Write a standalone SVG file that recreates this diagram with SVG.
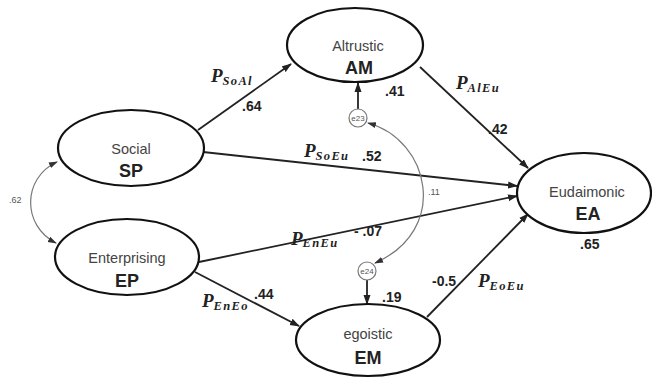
<svg xmlns="http://www.w3.org/2000/svg" width="652" height="378" viewBox="0 0 652 378">
<style>
.lat{fill:#fff;stroke:#111;stroke-width:2.2}
.err{fill:#fff;stroke:#777;stroke-width:1.2}
.name{font-family:"Liberation Sans",Arial,sans-serif;font-size:14.5px;fill:#444;text-anchor:middle}
.code{font-family:"Liberation Sans",Arial,sans-serif;font-size:18px;font-weight:bold;fill:#222;text-anchor:middle}
.etx{font-family:"Liberation Sans",Arial,sans-serif;font-size:8px;fill:#555;text-anchor:middle}
.path{stroke:#222;stroke-width:1.8;fill:none;marker-end:url(#ah)}
.cov{stroke:#777;stroke-width:1.2;fill:none;marker-start:url(#ahg);marker-end:url(#ahg)}
.coef{font-family:"Liberation Sans",Arial,sans-serif;font-size:14px;font-weight:bold;fill:#222}
.small{font-family:"Liberation Sans",Arial,sans-serif;font-size:9px;fill:#555}
.p{font-family:"Liberation Serif","Times New Roman",serif;font-style:italic;font-weight:bold;font-size:19px;fill:#222}
.sub{font-size:12.5px;letter-spacing:1.3px}
</style>
<defs>
<marker id="ah" markerWidth="10" markerHeight="8" refX="9" refY="4" orient="auto" markerUnits="userSpaceOnUse">
<path d="M0,0.5 L10,4 L0,7.5 Z" fill="#222"/>
</marker>
<marker id="ahg" markerWidth="9" markerHeight="7" refX="8" refY="3.5" orient="auto-start-reverse" markerUnits="userSpaceOnUse">
<path d="M0,0.5 L9,3.5 L0,6.5 Z" fill="#333"/>
</marker>
</defs>
<g id="connectors">
<path class="path" d="M198,130 L291,64"/>
<path class="path" d="M420,67 L528,168"/>
<path class="path" d="M203,152 L517,186"/>
<path class="path" d="M199,262 L517,196"/>
<path class="path" d="M195,272 L299,326"/>
<path class="path" d="M427,317 L528,214"/>
<path class="path" d="M358,109 L358,83"/>
<path class="path" d="M367,280 L367,304"/>
<path class="cov" d="M368,123 C430,140 450,230 375,263"/>
<path class="cov" d="M57,162 C22,178 22,226 56,243"/>
</g>
<g id="AM"><ellipse class="lat" cx="355" cy="45" rx="68" ry="37"/><text class="name" x="358" y="51">Altrustic</text><text class="code" x="359" y="74">AM</text></g>
<g id="SP"><ellipse class="lat" cx="131" cy="148" rx="73" ry="38"/><text class="name" x="131" y="154">Social</text><text class="code" x="131" y="177">SP</text></g>
<g id="EP"><ellipse class="lat" cx="127" cy="257" rx="72" ry="38"/><text class="name" x="127" y="263">Enterprising</text><text class="code" x="127" y="287">EP</text></g>
<g id="EM"><ellipse class="lat" cx="368" cy="340" rx="72" ry="36"/><text class="name" x="368" y="339">egoistic</text><text class="code" x="368" y="364">EM</text></g>
<g id="EA"><ellipse class="lat" cx="584" cy="193" rx="67" ry="40"/><text class="name" x="587" y="197">Eudaimonic</text><text class="code" x="588" y="220">EA</text></g>
<g id="e23"><circle class="err" cx="358" cy="118" r="9"/><text class="etx" x="358" y="121">e23</text></g>
<g id="e24"><circle class="err" cx="367" cy="271" r="9"/><text class="etx" x="367" y="274">e24</text></g>
<g id="labels">
<text class="p" x="211" y="82">P<tspan class="sub" dy="3">SoAl</tspan></text>
<text class="coef" x="242" y="111">.64</text>
<text class="p" x="456" y="89">P<tspan class="sub" dy="3">AlEu</tspan></text>
<text class="coef" x="488" y="134">.42</text>
<text class="coef" x="385" y="96">.41</text>
<text class="p" x="304" y="157">P<tspan class="sub" dy="3">SoEu</tspan></text>
<text class="coef" x="362" y="161">.52</text>
<text class="small" x="428" y="195">.11</text>
<text class="small" x="9" y="203">.62</text>
<text class="p" x="291" y="245">P<tspan class="sub" dy="2">EnEu</tspan></text>
<text class="coef" x="354" y="236">- .07</text>
<text class="coef" x="580" y="249">.65</text>
<text class="p" x="202" y="307">P<tspan class="sub" dy="3">EnEo</tspan></text>
<text class="coef" x="254" y="299">.44</text>
<text class="coef" x="382" y="302">.19</text>
<text class="coef" x="432" y="286">-0.5</text>
<text class="p" x="478" y="287">P<tspan class="sub" dy="3">EoEu</tspan></text>
</g>
</svg>
